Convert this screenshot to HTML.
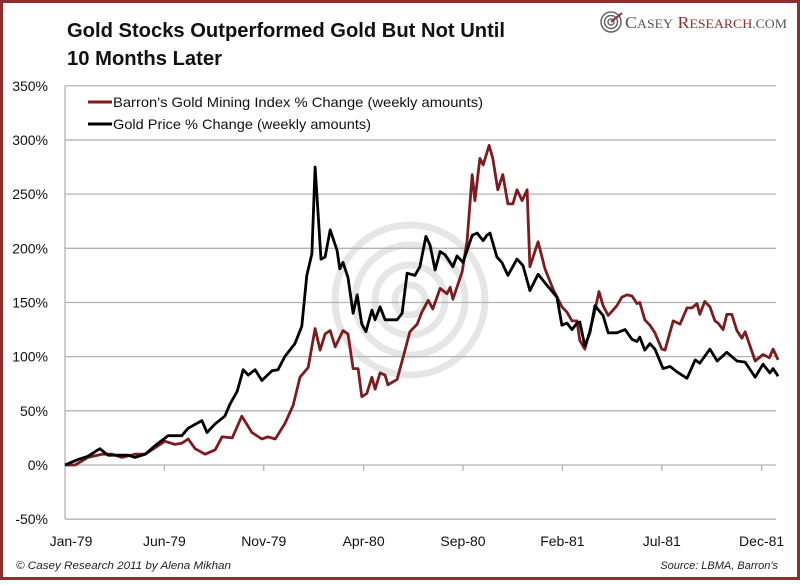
<!DOCTYPE html>
<html><head><meta charset="utf-8">
<style>
html,body{margin:0;padding:0;background:#fff;}
body{width:800px;height:580px;overflow:hidden;}
svg text{font-family:"Liberation Sans",sans-serif;}
</style></head>
<body>
<svg id="chart" width="800" height="580" viewBox="0 0 800 580" xmlns="http://www.w3.org/2000/svg">
<rect x="1.5" y="1.5" width="797" height="577" fill="#fff" stroke="#8b2f2f" stroke-width="3"/>
<text x="67" y="37" font-size="20" font-weight="bold" fill="#111" textLength="438" lengthAdjust="spacingAndGlyphs">Gold Stocks Outperformed Gold But Not Until</text>
<text x="67" y="65" font-size="20" font-weight="bold" fill="#111" textLength="155" lengthAdjust="spacingAndGlyphs">10 Months Later</text>
<g>
  <circle cx="611" cy="22" r="10" fill="none" stroke="#666" stroke-width="1.5"/>
  <circle cx="611" cy="22" r="6.5" fill="none" stroke="#666" stroke-width="1.5"/>
  <circle cx="611" cy="22" r="3" fill="none" stroke="#666" stroke-width="1.5"/>
  <line x1="611" y1="22" x2="622" y2="13" stroke="#8b2f2f" stroke-width="2"/>
  <text x="625" y="28" font-size="17" fill="#555" textLength="162" lengthAdjust="spacingAndGlyphs" style="font-family:'Liberation Serif',serif">C<tspan font-size="13">ASEY</tspan> <tspan fill="#8b2f2f">R</tspan><tspan font-size="13" fill="#8b2f2f">ESEARCH</tspan><tspan font-size="13">.COM</tspan></text>
</g>
<g fill="none" stroke="#e4e4e4" stroke-width="7" opacity="0.9">
  <circle cx="410" cy="300" r="75"/>
  <circle cx="410" cy="300" r="55"/>
  <circle cx="410" cy="300" r="35"/>
  <circle cx="410" cy="300" r="15"/>
</g>
<g id="grid"></g>
<g id="yaxis"></g>
<g id="xaxis"></g>
<g id="series"></g>
<g>
  <g>
    <line x1="88" y1="102" x2="112" y2="102" stroke="#7b1c1f" stroke-width="3"/>
    <text x="113" y="107" font-size="14" fill="#111" textLength="370" lengthAdjust="spacingAndGlyphs">Barron's Gold Mining Index % Change (weekly amounts)</text>
  </g>
  <g>
    <line x1="88" y1="124" x2="112" y2="124" stroke="#000" stroke-width="3"/>
    <text x="113" y="129" font-size="14" fill="#111" textLength="258" lengthAdjust="spacingAndGlyphs">Gold Price % Change (weekly amounts)</text>
  </g>
</g>
<text x="16" y="569" font-size="11" font-style="italic" fill="#222" textLength="215" lengthAdjust="spacingAndGlyphs">© Casey Research 2011 by Alena Mikhan</text>
<text x="778" y="569" font-size="11" font-style="italic" fill="#222" text-anchor="end">Source: LBMA, Barron's</text>
</svg>
<script>
const yTicks = [-50,0,50,100,150,200,250,300,350];
const xTickLabels = ["Jan-79","Jun-79","Nov-79","Apr-80","Sep-80","Feb-81","Jul-81","Dec-81"];
const xTickWeeks = [0,21.7,43.4,65.2,86.9,108.6,130.3,152.1];
const goldWeeks = [0,2.8,5,7.6,9.4,11.6,13.8,15.3,17.5,19.7,22.5,25.5,26.9,29.9,31,32.8,34.9,36,37.6,38.9,40,41.5,43,45.2,46.5,48,50.2,51.7,52.8,53.9,54.6,55.9,56.8,57.9,59.4,60,60.7,61.8,62.9,63.8,64.8,65.7,67,67.7,68.8,69.9,72.5,73.6,74.7,76.4,77.5,78.8,79.7,80.8,81.9,83,84.7,85.6,86.9,88.9,90,91.3,92.1,92.8,94.3,95.4,96.7,98.7,100,101.5,103.3,105.2,107.4,108.5,109.6,110.7,111.8,112.4,113.5,114.6,115.7,117.5,118.6,120.5,122.3,123.8,124.9,125.5,126.6,127.7,128.8,130.6,132.1,133.6,135.8,137.6,138.6,140.8,142.4,144.5,146.7,148.5,150.7,152.4,153.9,154.6,155.7];
const goldValues = [0,5,8,15,9,9,9,7,10,18,27,27,34,41,30,38,45,56,68,88,83,88,78,87,88,100,112,128,175,195,275,190,192,217,198,181,187,173,140,157,130,123,143,134,146,134,134,140,177,175,183,211,203,180,197,194,183,193,187,212,214,207,212,214,192,187,175,190,184,161,176,166,155,129,131,125,131,132,110,122,147,138,122,122,125,116,114,118,106,112,107,89,91,86,80,97,94,107,96,104,96,95,81,93,85,89,82];
const miningWeeks = [0,2.2,5,8.1,10.3,12.4,15.3,17.5,19.7,21.8,24,25.5,26.9,28.4,30.6,32.8,34.3,36.5,38.6,40.8,43,44.3,45.9,48,49.8,51.3,53.1,54.6,55.7,56.8,57.9,59,60.7,61.8,62.9,64,64.8,65.9,67,67.7,68.8,69.9,70.5,72.5,73.8,75.3,76.9,77.9,79.3,80.3,81.9,83.4,84.1,84.7,86.7,87.8,88.9,89.5,90.6,91.3,92.6,93.4,94.5,95.6,96.7,97.8,98.7,99.8,100.9,101.5,103.3,104.8,106.6,108.5,109.6,110.7,111.8,112.4,113.5,114.6,115.5,116.6,117.5,118.6,120.5,121.6,122.7,123.8,124.9,125.5,126.6,127.7,128.8,130.3,131,132.8,134.3,135.8,136.9,138,138.6,139.7,140.8,141.9,142.6,143.7,144.5,145.6,146.7,147.8,148.5,150.7,152.4,153.8,154.6,155.7];
const miningValues = [0,0,7,10,10,7,10,10,16,22,19,20,24,15,10,14,26,25,45,30,24,26,24,38,55,81,90,126,106,121,124,109,124,121,89,89,63,66,81,70,85,83,74,79,99,123,130,141,152,144,163,158,164,153,178,207,268,244,283,277,295,283,254,268,241,241,254,244,254,183,206,181,162,146,141,133,133,115,107,124,139,160,147,138,147,155,157,156,149,150,134,129,122,107,106,133,130,145,145,149,139,151,146,133,131,125,139,139,124,117,123,96,102,99,107,97];

const NS = "http://www.w3.org/2000/svg";
const PLOT_L = 65, PLOT_R = 776;
function xScale(w){ return PLOT_L + w * 4.58; }
function yScale(v){ return 465 - v * 1.0835; }
function mk(tag, attrs, parent){
  const e = document.createElementNS(NS, tag);
  for (const k in attrs) e.setAttribute(k, attrs[k]);
  parent.appendChild(e);
  return e;
}
const grid = document.getElementById('grid');
const yaxis = document.getElementById('yaxis');
const xaxis = document.getElementById('xaxis');
const series = document.getElementById('series');

yTicks.forEach(t => {
  const y = yScale(t);
  const gl = mk('line', {x1: PLOT_L, x2: PLOT_R, y1: y, y2: y, stroke: '#b3b3b3', 'stroke-width': 1.3}, grid);
  
  
  const lb = mk('text', {x: 48, y: y + 5, 'font-size': 14, 'text-anchor': 'end', fill: '#111'}, yaxis);
  lb.textContent = t + '%';
  
  
});
const ax = mk('line', {x1: PLOT_L, x2: PLOT_L, y1: yScale(350), y2: yScale(-50), stroke: '#b3b3b3', 'stroke-width': 1.3}, yaxis);



xTickWeeks.forEach((w, i) => {
  const x = xScale(w);
  if (i > 0) {
    const tk = mk('line', {x1: x, x2: x, y1: yScale(0), y2: yScale(0) + 6, stroke: '#b3b3b3', 'stroke-width': 1.3}, xaxis);
    
    
  }
  const lb = mk('text', {x: Math.max(x, 71), y: 546, 'font-size': 14, 'text-anchor': 'middle', fill: '#111'}, xaxis);
  lb.textContent = xTickLabels[i];
  
  
});

function drawLine(weeks, vals, color, name){
  const d = weeks.map((w, i) => (i ? 'L' : 'M') + xScale(w).toFixed(1) + ' ' + yScale(vals[i]).toFixed(1)).join(' ');
  const p = mk('path', {d: d, fill: 'none', stroke: color, 'stroke-width': 2.8, 'stroke-linejoin': 'round'}, series);
  
  
}
drawLine(miningWeeks, miningValues, '#7b1c1f', 'mining-index-line');
drawLine(goldWeeks, goldValues, '#000000', 'gold-price-line');
</script>
</body></html>
